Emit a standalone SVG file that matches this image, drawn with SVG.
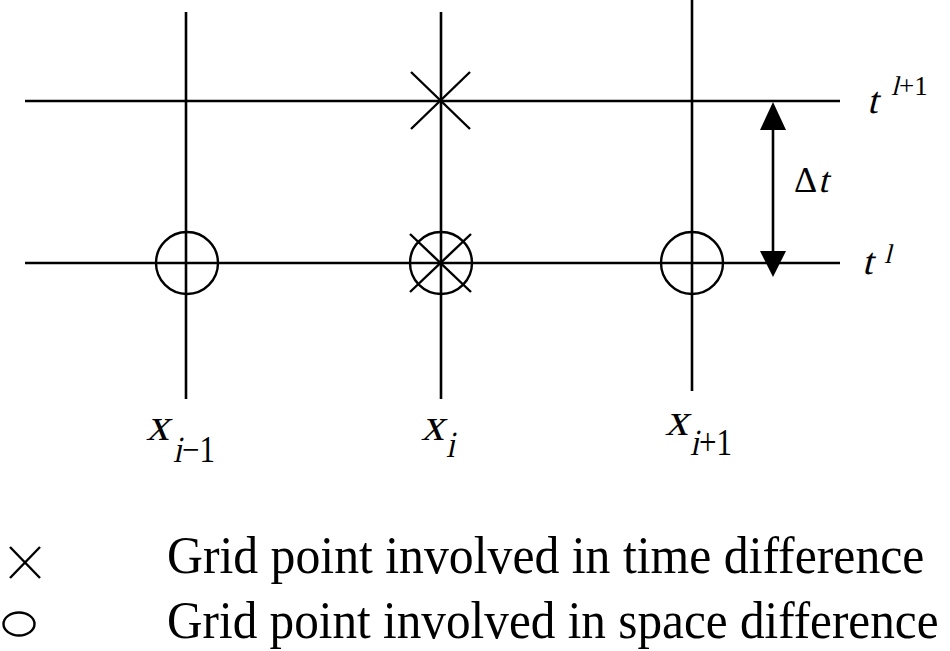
<svg xmlns="http://www.w3.org/2000/svg" width="950" height="651" viewBox="0 0 950 651">
<style>
  .ln { stroke:#000; stroke-width:2.6; fill:none; }
  .mk { stroke:#000; stroke-width:2.4; fill:none; }
  .serif { font-family:"Liberation Serif","Times New Roman",serif; font-style:normal; fill:#000; }
  .leg { font-family:"Liberation Serif","Times New Roman",serif; font-size:50px; fill:#000; }
</style>
<rect width="950" height="651" fill="#fff"/>
<g id="connectors">
  <line class="ln" x1="25" y1="101" x2="840" y2="101"/>
  <line class="ln" x1="25" y1="263" x2="840" y2="263"/>
  <line class="ln" x1="186" y1="12" x2="186" y2="399"/>
  <line class="ln" x1="441" y1="12" x2="441" y2="399"/>
  <line class="ln" x1="692" y1="0" x2="692" y2="391"/>
  <line class="ln" x1="773" y1="128" x2="773" y2="254"/>
  <polygon points="773,102 760,130 786,130" fill="#000"/>
  <polygon points="773,277 760,251 786,251" fill="#000"/>
</g>
<g id="node-time-top">
  <line class="mk" x1="411" y1="72" x2="470" y2="129"/>
  <line class="mk" x1="470" y1="72" x2="411" y2="129"/>
</g>
<g id="node-left">
  <circle class="mk" cx="187" cy="263" r="31"/>
</g>
<g id="node-mid">
  <circle class="mk" cx="441" cy="263" r="31"/>
  <line class="mk" x1="410" y1="234" x2="471" y2="292"/>
  <line class="mk" x1="471" y1="234" x2="410" y2="292"/>
</g>
<g id="node-right">
  <circle class="mk" cx="692" cy="263" r="31"/>
</g>
<g id="labels" class="serif">
  <text transform="translate(146,440) skewX(-14)" font-size="46">x</text>
  <text transform="translate(173,462) scale(1,1.2) skewX(-14)" font-size="31">i</text>
  <text transform="translate(182,462) scale(1,1.2)" font-size="31">−1</text>
  <text transform="translate(421,440) skewX(-14)" font-size="46">x</text>
  <text transform="translate(446,457) scale(1,1.2) skewX(-14)" font-size="31">i</text>
  <text transform="translate(665,435) skewX(-14)" font-size="46">x</text>
  <text transform="translate(690,455) scale(1,1.2) skewX(-14)" font-size="31">i</text>
  <text transform="translate(699,455) scale(1,1.2)" font-size="31">+1</text>
  <text transform="translate(867,113) skewX(-14)" font-size="38">t</text>
  <text transform="translate(891,95) skewX(-14)" font-size="27">l</text>
  <text transform="translate(899,95)" font-size="27">+1</text>
  <text transform="translate(862,274) skewX(-14)" font-size="38">t</text>
  <text transform="translate(884,263) skewX(-14)" font-size="27">l</text>
  <text transform="translate(794,192)" font-size="36">Δ</text>
  <text transform="translate(818,192) skewX(-14)" font-size="36">t</text>
</g>
<g id="legend">
  <line class="mk" x1="10" y1="547" x2="40" y2="578" stroke-width="2"/>
  <line class="mk" x1="40" y1="547" x2="10" y2="578" stroke-width="2"/>
  <ellipse class="mk" cx="19" cy="624" rx="15.5" ry="11.5" stroke-width="2"/>
  <text class="leg" transform="translate(167,573) scale(0.995,1.06)">Grid point involved in time difference</text>
  <text class="leg" transform="translate(167,638) scale(0.985,1.06)">Grid point involved in space difference</text>
</g>
</svg>
